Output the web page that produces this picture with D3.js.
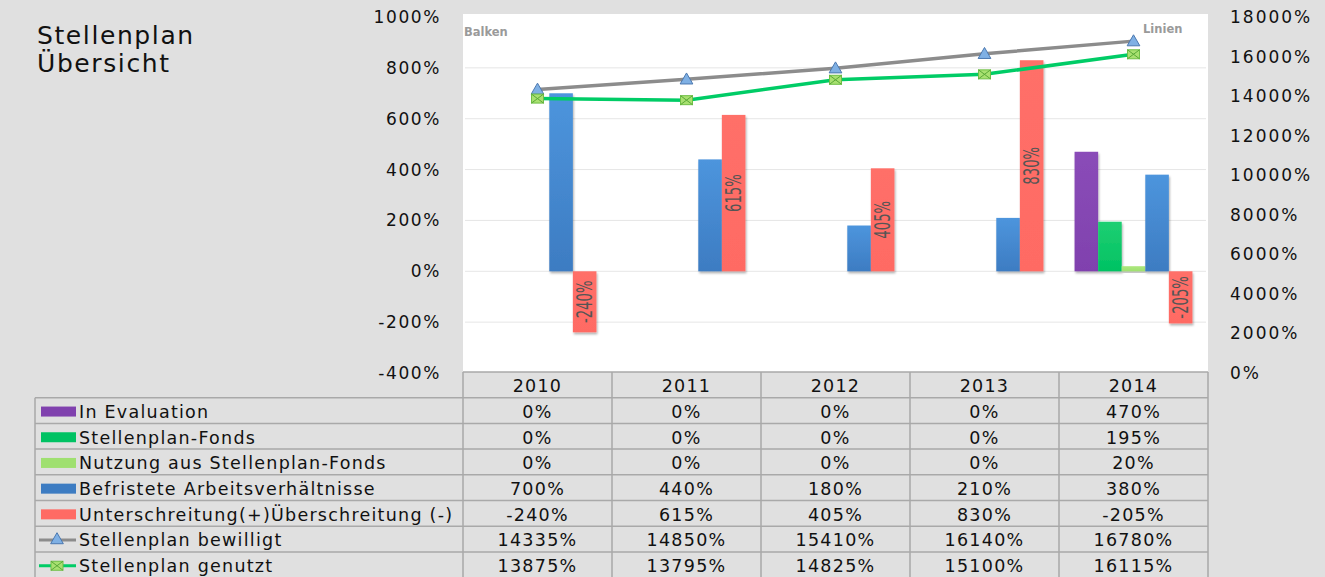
<!DOCTYPE html>
<html>
<head>
<meta charset="utf-8">
<script src="https://cdn.jsdelivr.net/npm/d3@7"></script>
<style>
  html, body { margin: 0; padding: 0; background: #e0e0e0; }
  svg { display: block; font-family: 'DejaVu Sans', sans-serif; }
</style>
</head>
<body>
<div id="chart"></div>
<script>
const WIDTH = 1325;
const HEIGHT = 577;
const PLOT = { LEFT: 463, RIGHT: 1208, TOP: 14, BOTTOM: 372 };
const Y_TOP = 17;
const Y_BOTTOM = 373;
const TABLE_LEFT = 35;
const ROW_H = 25.7;

const years = ['2010', '2011', '2012', '2013', '2014'];
const inEvaluation = [0, 0, 0, 0, 470];
const stellenplanFonds = [0, 0, 0, 0, 195];
const nutzungFonds = [0, 0, 0, 0, 20];
const befristet = [700, 440, 180, 210, 380];
const unterschreitung = [-240, 615, 405, 830, -205];
const bewilligt = [14335, 14850, 15410, 16140, 16780];
const genutzt = [13875, 13795, 14825, 15100, 16115];
const leftTicks = [-400, -200, 0, 200, 400, 600, 800, 1000];
const rightTicks = [0, 2000, 4000, 6000, 8000, 10000, 12000, 14000, 16000, 18000];

const barSeries = [
    { key: 'In Evaluation', values: inEvaluation, color: '#8041ae', light: '#8a4cb8' },
    { key: 'Stellenplan-Fonds', values: stellenplanFonds, color: '#00c263', light: '#1fcf72' },
    { key: 'Nutzung aus Stellenplan-Fonds', values: nutzungFonds, color: '#9fe070', light: '#ade87e' },
    { key: 'Befristete Arbeitsverhältnisse', values: befristet, color: '#3d7cc2', light: '#4d95dd' },
    { key: 'Unterschreitung(+)Überschreitung (-)', values: unterschreitung, color: '#ff6b64', light: '#ff6f68' },
];
const lineSeries = [
    { key: 'Stellenplan bewilligt', values: bewilligt, color: '#8c8c8c', marker: 'triangle' },
    { key: 'Stellenplan genutzt', values: genutzt, color: '#00cc66', marker: 'envelope' },
];

const svg = d3.select('#chart')
    .append('svg')
    .attr('width', WIDTH)
    .attr('height', HEIGHT);

const defs = svg.append('defs');
defs.append('filter')
    .attr('id', 'shadow')
    .attr('x', '-20%').attr('y', '-5%').attr('width', '160%').attr('height', '120%')
    .append('feDropShadow')
    .attr('dx', 1).attr('dy', 2).attr('stdDeviation', 1.2)
    .attr('flood-color', '#000').attr('flood-opacity', 0.3);

barSeries.forEach((s, i) => {
    const g = defs.append('linearGradient')
        .attr('id', `grad${i}`)
        .attr('x1', 0).attr('y1', 0).attr('x2', 0).attr('y2', 1);
    g.append('stop').attr('offset', '0%').attr('stop-color', s.light);
    g.append('stop').attr('offset', '100%').attr('stop-color', s.color);
});

// plot area
svg.append('rect')
    .attr('x', PLOT.LEFT)
    .attr('y', PLOT.TOP)
    .attr('width', PLOT.RIGHT - PLOT.LEFT)
    .attr('height', PLOT.BOTTOM - PLOT.TOP)
    .attr('fill', '#fff');

const x0 = d3.scaleBand().domain(years).range([PLOT.LEFT, PLOT.RIGHT]);
const x1 = d3.scaleBand()
    .domain(barSeries.map((s) => s.key))
    .range([0, x0.bandwidth()])
    .paddingOuter(0.66);
const yLeft = d3.scaleLinear().domain([-400, 1000]).range([Y_BOTTOM, Y_TOP]);
const yRight = d3.scaleLinear().domain([0, 18000]).range([Y_BOTTOM, Y_TOP]);

// gridlines
svg.append('g')
    .selectAll('line')
    .data(leftTicks.filter((t) => t > -400 && t < 1000))
    .join('line')
    .attr('x1', PLOT.LEFT + 2)
    .attr('x2', PLOT.RIGHT - 2)
    .attr('y1', (d) => yLeft(d))
    .attr('y2', (d) => yLeft(d))
    .attr('stroke', '#e6e6e6')
    .attr('stroke-width', 1);

// axes
const leftAxis = svg.append('g')
    .attr('transform', `translate(441, 0)`)
    .call(d3.axisLeft(yLeft).tickValues(leftTicks).tickSize(0).tickPadding(0).tickFormat((d) => `${d}%`));
leftAxis.select('.domain').remove();
leftAxis.selectAll('text')
    .attr('font-family', 'DejaVu Sans, sans-serif')
    .attr('font-size', 17)
    .attr('letter-spacing', 1.6)
    .attr('fill', '#111');

const rightAxis = svg.append('g')
    .attr('transform', `translate(1230, 0)`)
    .call(d3.axisRight(yRight).tickValues(rightTicks).tickSize(0).tickPadding(0).tickFormat((d) => `${d}%`));
rightAxis.select('.domain').remove();
rightAxis.selectAll('text')
    .attr('font-family', 'DejaVu Sans, sans-serif')
    .attr('font-size', 17)
    .attr('letter-spacing', 2)
    .attr('fill', '#111');

// bars
const barGroups = svg.append('g')
    .selectAll('g')
    .data(barSeries)
    .join('g')
    .attr('fill', (d, i) => `url(#grad${i})`)
    .attr('filter', 'url(#shadow)');

barGroups.selectAll('rect')
    .data((s) => s.values.map((v, i) => ({ key: s.key, year: years[i], value: v })))
    .join('rect')
    .attr('x', (d) => x0(d.year) + x1(d.key))
    .attr('width', x1.bandwidth())
    .attr('y', (d) => yLeft(Math.max(0, d.value)))
    .attr('height', (d) => Math.abs(yLeft(d.value) - yLeft(0)));

// labels on red bars
const redSeries = barSeries[4];
svg.append('g')
    .selectAll('text')
    .data(redSeries.values.map((v, i) => ({ year: years[i], value: v })))
    .join('text')
    .attr('transform', (d) => {
        const cx = x0(d.year) + x1(redSeries.key) + x1.bandwidth() / 2;
        const cy = (yLeft(d.value) + yLeft(0)) / 2;
        return `translate(${cx},${cy}) rotate(-90) scale(0.7,1)`;
    })
    .attr('text-anchor', 'middle')
    .attr('dy', '0.36em')
    .attr('font-family', "'DejaVu Sans Condensed', sans-serif")
    .attr('font-size', 21)
    .attr('fill', '#555')
    .text((d) => `${d.value}%`);

// lines
const cx = (year) => x0(year) + x0.bandwidth() / 2;
const lineGen = d3.line()
    .x((d) => cx(d.year))
    .y((d) => yRight(d.value));

function drawTriangle(g, x, y) {
    g.append('path')
        .attr('d', d3.symbol(d3.symbolTriangle, 70)())
        .attr('transform', `translate(${x},${y + 1})`)
        .attr('fill', '#7fb0e4')
        .attr('stroke', '#4b78b0')
        .attr('stroke-width', 1);
}

function drawEnvelope(g, x, y) {
    g.append('rect')
        .attr('x', x - 6).attr('y', y - 4.5)
        .attr('width', 12).attr('height', 9)
        .attr('fill', '#a8e070')
        .attr('stroke', '#6fbf45')
        .attr('stroke-width', 1);
    g.append('path')
        .attr('d', `M${x - 6},${y - 4.5}L${x + 6},${y + 4.5}M${x + 6},${y - 4.5}L${x - 6},${y + 4.5}`)
        .attr('stroke', '#5aa838')
        .attr('stroke-width', 1);
}

lineSeries.forEach((s) => {
    const pts = s.values.map((v, i) => ({ year: years[i], value: v }));
    svg.append('path')
        .attr('d', lineGen(pts))
        .attr('fill', 'none')
        .attr('stroke', s.color)
        .attr('stroke-width', 3.5);
    const mg = svg.append('g');
    pts.forEach((p) => {
        if (s.marker === 'triangle') drawTriangle(mg, cx(p.year), yRight(p.value));
        else drawEnvelope(mg, cx(p.year), yRight(p.value));
    });
});

// corner labels
svg.append('text')
    .attr('x', 464).attr('y', 36)
    .attr('font-size', 11.5).attr('font-weight', 'bold')
    .attr('fill', '#9a9a9a')
    .text('Balken');
svg.append('text')
    .attr('x', 1143).attr('y', 33)
    .attr('font-size', 11.5).attr('font-weight', 'bold')
    .attr('fill', '#9a9a9a')
    .text('Linien');

// title
const title = svg.append('text')
    .attr('x', 37)
    .attr('font-size', 25)
    .attr('letter-spacing', 1.6)
    .attr('fill', '#111');
title.append('tspan').attr('x', 37).attr('y', 44).text('Stellenplan');
title.append('tspan').attr('x', 37).attr('y', 72).text('Übersicht');

// data table
const allSeries = [...barSeries, ...lineSeries];
const table = svg.append('g');
const GRID = '#a9a9a9';
const rowY = (i) => PLOT.BOTTOM + (i + 1) * ROW_H;

table.append('line')
    .attr('x1', PLOT.LEFT).attr('x2', PLOT.RIGHT)
    .attr('y1', PLOT.BOTTOM).attr('y2', PLOT.BOTTOM)
    .attr('stroke', GRID).attr('stroke-width', 1.5);
table.selectAll('.hline')
    .data(allSeries)
    .join('line')
    .attr('x1', TABLE_LEFT).attr('x2', PLOT.RIGHT)
    .attr('y1', (d, i) => rowY(i)).attr('y2', (d, i) => rowY(i))
    .attr('stroke', GRID).attr('stroke-width', 1.5);
table.append('line')
    .attr('x1', TABLE_LEFT).attr('x2', TABLE_LEFT)
    .attr('y1', rowY(0)).attr('y2', HEIGHT)
    .attr('stroke', GRID).attr('stroke-width', 1.5);
table.selectAll('.vline')
    .data([...years.map((y) => x0(y)), PLOT.RIGHT])
    .join('line')
    .attr('x1', (d) => d).attr('x2', (d) => d)
    .attr('y1', PLOT.BOTTOM).attr('y2', HEIGHT)
    .attr('stroke', GRID).attr('stroke-width', 1.5);

const cellText = (sel) => sel
    .attr('font-size', 17.5)
    .attr('letter-spacing', 1.25)
    .attr('fill', '#111')
    .attr('dy', '0.36em');

table.selectAll('.year')
    .data(years)
    .join('text')
    .attr('x', (d) => cx(d))
    .attr('y', PLOT.BOTTOM + ROW_H / 2 + 1)
    .attr('text-anchor', 'middle')
    .call(cellText)
    .text((d) => d);

allSeries.forEach((s, r) => {
    const midY = rowY(r) + ROW_H / 2 + 1;
    if (s.marker) {
        table.append('line')
            .attr('x1', 39).attr('x2', 76)
            .attr('y1', midY).attr('y2', midY)
            .attr('stroke', s.color).attr('stroke-width', 3);
        if (s.marker === 'triangle') drawTriangle(table, 57, midY - 1);
        else drawEnvelope(table, 57, midY);
    } else {
        table.append('rect')
            .attr('x', 41).attr('y', midY - 5)
            .attr('width', 35).attr('height', 10)
            .attr('fill', s.color);
    }
    table.append('text')
        .attr('x', 79)
        .attr('y', midY)
        .call(cellText)
        .text(s.key);
    table.selectAll(null)
        .data(s.values)
        .join('text')
        .attr('x', (d, i) => cx(years[i]))
        .attr('y', midY)
        .attr('text-anchor', 'middle')
        .call(cellText)
        .text((d) => `${d}%`);
});
</script>
</body>
</html>
